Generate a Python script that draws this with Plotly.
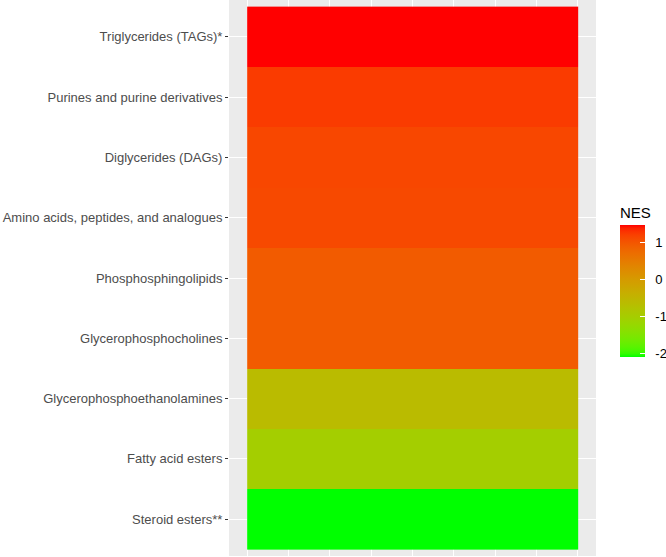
import plotly.graph_objects as go
import numpy as np

categories = [
    "Triglycerides (TAGs)*",
    "Purines and purine derivatives",
    "Diglycerides (DAGs)",
    "Amino acids, peptides, and analogues",
    "Phosphosphingolipids",
    "Glycerophosphocholines",
    "Glycerophosphoethanolamines",
    "Fatty acid esters",
    "Steroid esters**",
]
nes = [1.45, 1.22, 1.12, 1.10, 0.92, 0.92, -0.64, -1.04, -2.11]
cbar_ticks = [-2, -1, 0, 1]

# Lab interpolation (as ggplot's scale_fill_gradient low=green, high=red)
def srgb_to_lin(c):
    c = c / 255.0
    return np.where(c <= 0.04045, c / 12.92, ((c + 0.055) / 1.055) ** 2.4)

def lin_to_srgb(c):
    c = np.clip(c, 0, 1)
    v = np.where(c <= 0.0031308, 12.92 * c, 1.055 * c ** (1 / 2.4) - 0.055)
    return np.clip(np.round(v * 255), 0, 255)

M = np.array([[0.4124, 0.3576, 0.1805], [0.2126, 0.7152, 0.0722], [0.0193, 0.1192, 0.9505]])
Minv = np.linalg.inv(M)
WP = np.array([0.95047, 1.0, 1.08883])

def f(t):
    d = 6 / 29
    return np.where(t > d ** 3, np.cbrt(t), t / (3 * d * d) + 4 / 29)

def finv(t):
    d = 6 / 29
    return np.where(t > d, t ** 3, 3 * d * d * (t - 4 / 29))

def rgb_to_lab(rgb):
    xyz = M @ srgb_to_lin(np.array(rgb, float)) / WP
    fx, fy, fz = f(xyz)
    return np.array([116 * fy - 16, 500 * (fx - fy), 200 * (fy - fz)])

def lab_to_rgb(lab):
    L, a, b = lab
    fy = (L + 16) / 116
    fx = fy + a / 500
    fz = fy - b / 200
    xyz = finv(np.array([fx, fy, fz])) * WP
    return lin_to_srgb(Minv @ xyz)

lo = rgb_to_lab([0, 255, 0])
hi = rgb_to_lab([255, 0, 0])
colorscale = []
for t in np.linspace(0, 1, 41):
    r, g, b = lab_to_rgb(lo + (hi - lo) * t)
    colorscale.append([float(t), f"rgb({int(r)},{int(g)},{int(b)})"])

fig = go.Figure(
    go.Heatmap(
        x=[1],
        y=categories,
        z=[[v] for v in nes],
        zmin=min(nes),
        zmax=max(nes),
        colorscale=colorscale,
        colorbar=dict(
            title=dict(text="NES", side="top", font=dict(size=15, color="#000000")),
            xref="container",
            x=620 / 666,
            xanchor="left",
            yref="container",
            y=1 - 281 / 557,
            yanchor="middle",
            len=154,
            lenmode="pixels",
            thickness=25,
            thicknessmode="pixels",
            outlinewidth=0,
            tickvals=cbar_ticks,
            ticktext=["&nbsp;&nbsp;" + str(v) for v in cbar_ticks],
            ticks="inside",
            ticklen=5,
            tickcolor="white",
            tickfont=dict(size=13, color="#000000"),
            xpad=0,
            ypad=0,
        ),
        hoverongaps=False,
    )
)

n = len(categories)
fig.update_layout(
    width=666,
    height=557,
    margin=dict(l=229, r=70, t=0, b=1),
    paper_bgcolor="white",
    plot_bgcolor="#EBEBEB",
    font=dict(family="Liberation Sans, Arial, sans-serif", color="#4D4D4D"),
    xaxis=dict(
        range=[0.445, 1.555],
        dtick=0.25,
        tick0=0.5,
        showticklabels=False,
        ticks="",
        showgrid=True,
        gridcolor="white",
        gridwidth=1.1,
        minor=dict(dtick=0.125, tick0=0.5, showgrid=True, gridcolor="white", gridwidth=0.5),
        zeroline=False,
        showline=False,
    ),
    yaxis=dict(
        type="category",
        categoryorder="array",
        categoryarray=categories,
        range=[n - 0.5 + 0.11, -0.5 - 0.11],
        showgrid=True,
        gridcolor="white",
        gridwidth=1.1,
        ticks="outside",
        ticklen=3,
        tickwidth=1,
        tickcolor="#333333",
        tickfont=dict(size=13, color="#4D4D4D"),
        zeroline=False,
        showline=False,
    ),
)

fig.write_html("out.html")
